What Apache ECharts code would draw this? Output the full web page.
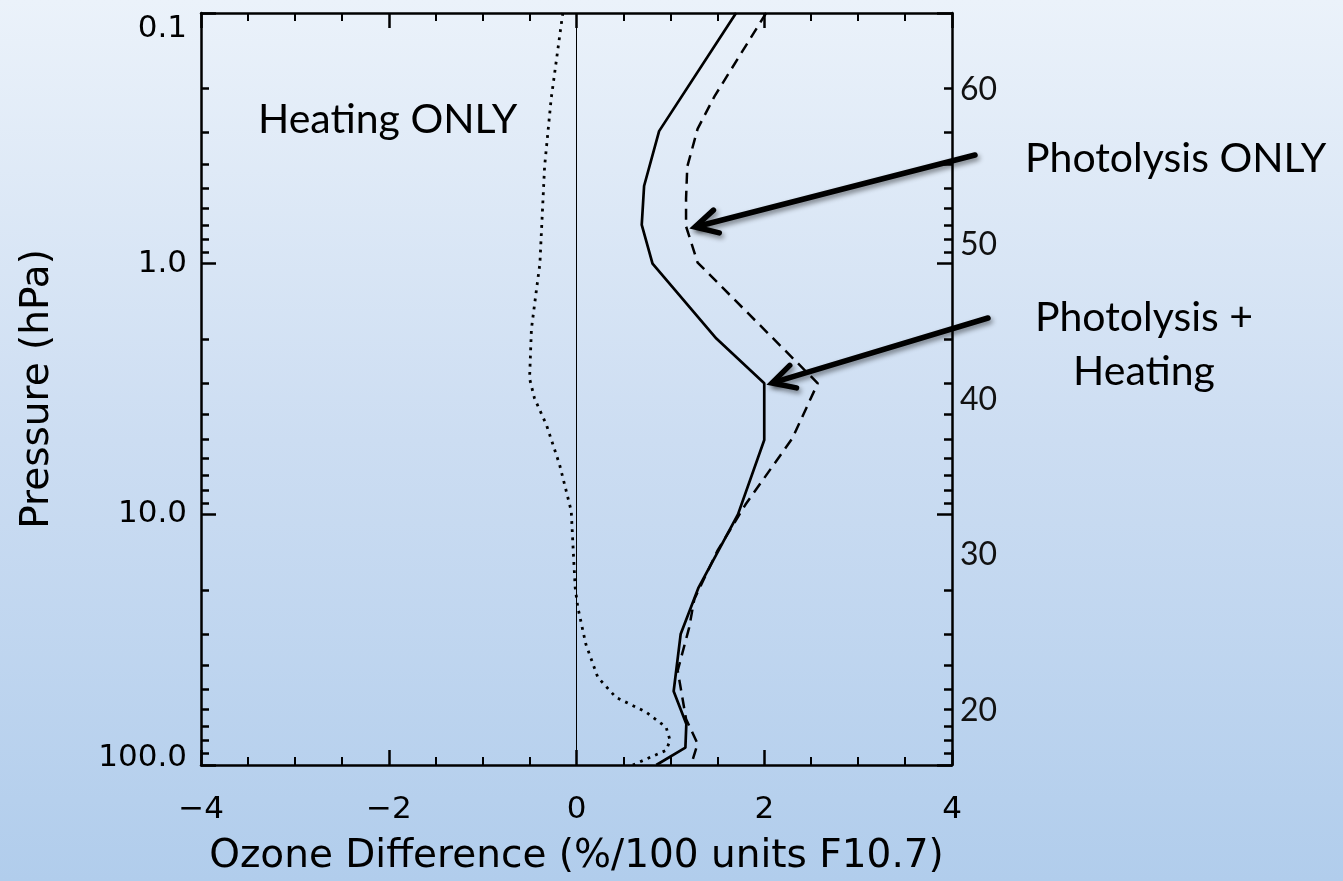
<!DOCTYPE html>
<html>
<head>
<meta charset="utf-8">
<script src="https://cdn.jsdelivr.net/npm/echarts@6/dist/echarts.min.js"></script>
<style>
  html, body { margin: 0; padding: 0; }
  #chart {
    width: 1343px; height: 881px;
    background: linear-gradient(to bottom, #EBF2FA 0%, #CCDDF2 50%, #B1CDEC 100%);
  }
</style>
</head>
<body>
<div id="chart"></div>
<script>
// Ozone response to the 11-year solar cycle, % per 100 units F10.7, versus pressure (hPa)

// Photolysis + Heating (solid)
const bothPressure = [0.1, 0.296, 0.49, 0.70, 1.0, 1.99, 3.0, 5.05, 10.0, 19.6, 30, 50.8, 68.6, 85.3, 100];
const bothOzone    = [1.70, 0.88, 0.72, 0.695, 0.81, 1.49, 2.0, 2.0, 1.72, 1.30, 1.11, 1.035, 1.17, 1.16, 0.85];

// Photolysis ONLY (dashed)
const photoPressure = [0.1, 0.215, 0.29, 0.41, 0.55, 0.71, 0.99, 3.0, 4.97, 9.14, 14, 21.8, 28.3, 42, 65.5, 82.3, 100];
const photoOzone    = [2.02, 1.47, 1.29, 1.18, 1.167, 1.167, 1.29, 2.57, 2.30, 1.80, 1.50, 1.255, 1.20, 1.078, 1.167, 1.29, 1.22];

// Heating ONLY (dotted)
const heatPressure = [0.1, 0.22, 0.41, 1.0, 1.3, 1.82, 2.87, 3.45, 4.4, 6.34, 9.7, 12.8, 19.6, 23.5, 33, 44.7, 53.7, 61.5, 70.6, 79.8, 87.4, 100];
const heatOzone    = [-0.146, -0.27, -0.34, -0.39, -0.43, -0.48, -0.50, -0.447, -0.32, -0.18, -0.056, -0.04, -0.014, 0.014, 0.10, 0.227, 0.42, 0.74, 0.954, 0.997, 0.954, 0.60];

// Axis ticks and labels
const xTicks = [-4, -2, 0, 2, 4];
const pressureTicks = [0.1, 1, 10, 100];
const pressureTickLabels = ['0.1', '1.0', '10.0', '100.0'];
const altitudeTicks = [20, 30, 40, 50, 60];
const altitudeRange = [16.47, 64.94];   // km spanned by the 100 .. 0.1 hPa column

const log10 = Math.log10;
const pMinorTicks = [];
[0.1, 1, 10].forEach(d => { for (let k = 2; k <= 9; k++) pMinorTicks.push(log10(k * d)); });
const pMajorTicks = pressureTicks.map(log10);
const pLabelOf = v => {
  const i = pMajorTicks.findIndex(t => Math.abs(t - v) < 1e-9);
  return i >= 0 ? pressureTickLabels[i] : '';
};

const toPoints = (ps, vs) => ps.map((p, i) => [vs[i], log10(p)]);

const AXIS_FONT = 'DejaVu Sans';
const NOTE_FONT = 'Lato';
const INK = '#000';

const yBase = {
  type: 'value', min: -1, max: 2, inverse: true,
  splitLine: { show: false }, axisLine: { show: false, onZero: false },
  axisTick: { show: false }, axisLabel: { show: false }
};

// pressure axis pieces: line, decade ticks, minor ticks, labels
const lineAxis = pos => Object.assign({}, yBase, {
  position: pos,
  axisLine: { show: true, onZero: false, lineStyle: { color: INK, width: 2.5 } },
  axisTick: { show: true, inside: true, length: 15, customValues: pMajorTicks, lineStyle: { color: INK, width: 2.5 } }
});
const minorAxis = pos => Object.assign({}, yBase, {
  position: pos,
  axisTick: { show: true, inside: true, length: 8, customValues: pMinorTicks, lineStyle: { color: INK, width: 2.5 } }
});
const labelAxis = (values, vAlign, lh) => Object.assign({}, yBase, {
  position: 'left',
  axisLabel: {
    show: true, customValues: values, margin: 14, fontFamily: AXIS_FONT, fontSize: 31, color: INK,
    verticalAlign: vAlign, lineHeight: lh, formatter: pLabelOf
  }
});

const chart = echarts.init(document.getElementById('chart'), null, { renderer: 'canvas' });

const pressureName = Object.assign(lineAxis('left'), {
  name: 'Pressure (hPa)', nameLocation: 'middle', nameRotate: 90, nameGap: 144,
  nameTextStyle: { fontFamily: AXIS_FONT, fontSize: 39, color: INK }
});

const option = {
  backgroundColor: 'transparent',
  animation: false,
  grid: { left: 201, top: 13, width: 751, height: 755, containLabel: false },
  xAxis: [
    {
      type: 'value', min: xTicks[0], max: xTicks[xTicks.length - 1], interval: 2, position: 'bottom',
      splitLine: { show: false },
      axisLine: { show: true, onZero: false, lineStyle: { color: INK, width: 2.5 } },
      axisTick: { show: true, inside: true, length: 15, lineStyle: { color: INK, width: 2.5 } },
      minorTick: { show: true, splitNumber: 4, length: 8, lineStyle: { color: INK, width: 2 } },
      axisLabel: {
        margin: 29, fontFamily: AXIS_FONT, fontSize: 31, color: INK,
        formatter: v => (v < 0 ? '\u2212' + Math.abs(v) : String(v))
      },
      name: 'Ozone Difference (%/100 units F10.7)', nameLocation: 'middle', nameGap: 72,
      nameTextStyle: { fontFamily: AXIS_FONT, fontSize: 39, color: INK }
    },
    {
      type: 'value', min: xTicks[0], max: xTicks[xTicks.length - 1], interval: 2, position: 'top',
      splitLine: { show: false },
      axisLine: { show: true, onZero: false, lineStyle: { color: INK, width: 2.5 } },
      axisTick: { show: true, inside: true, length: 15, lineStyle: { color: INK, width: 2.5 } },
      minorTick: { show: true, splitNumber: 4, length: 8, lineStyle: { color: INK, width: 2 } },
      axisLabel: { show: false }
    }
  ],
  yAxis: [
    pressureName,
    minorAxis('left'),
    labelAxis([0, 1], 'middle', 31),
    labelAxis([-1], 'top', 31),
    labelAxis([2], 'bottom', 14),
    lineAxis('right'),
    minorAxis('right'),
    // right: approximate altitude (km)
    {
      type: 'value', position: 'right', min: altitudeRange[0], max: altitudeRange[1],
      splitLine: { show: false }, axisLine: { show: false, onZero: false }, axisTick: { show: false },
      axisLabel: {
        show: true, customValues: altitudeTicks, margin: 8,
        fontFamily: NOTE_FONT, fontSize: 32, color: '#111'
      }
    }
  ],
  series: [
    {
      name: 'Photolysis + Heating', type: 'line', xAxisIndex: 0, yAxisIndex: 0,
      data: toPoints(bothPressure, bothOzone), showSymbol: false, silent: true,
      lineStyle: { color: INK, width: 2.7, type: 'solid' },
      markLine: {
        silent: true, symbol: 'none', label: { show: false },
        lineStyle: { color: INK, width: 1, type: 'solid' },
        data: [{ xAxis: 0 }]
      }
    },
    {
      name: 'Photolysis ONLY', type: 'line', xAxisIndex: 0, yAxisIndex: 0,
      data: toPoints(photoPressure, photoOzone), showSymbol: false, silent: true,
      lineStyle: { color: INK, width: 2.5, type: [11, 7] }
    },
    {
      name: 'Heating ONLY', type: 'line', xAxisIndex: 0, yAxisIndex: 0,
      data: toPoints(heatPressure, heatOzone), showSymbol: false, silent: true,
      lineStyle: { color: INK, width: 2.8, type: [2.8, 5.4] }
    }
  ]
};

chart.setOption(option);

// Annotation arrows pointing from the labels to the curves
function arrow(x1, y1, x2, y2) {
  const ang = Math.atan2(y1 - y2, x1 - x2);
  const head = 25, spread = 28 * Math.PI / 180;
  const a1 = [x2 + head * Math.cos(ang + spread), y2 + head * Math.sin(ang + spread)];
  const a2 = [x2 + head * Math.cos(ang - spread), y2 + head * Math.sin(ang - spread)];
  const style = {
    stroke: INK, lineWidth: 5.5, lineCap: 'round', lineJoin: 'miter', fill: null,
    shadowColor: 'rgba(0,0,0,0.45)', shadowBlur: 5, shadowOffsetX: 2, shadowOffsetY: 3
  };
  return [
    { type: 'line', shape: { x1: x1, y1: y1, x2: x2 + 2 * Math.cos(ang), y2: y2 + 2 * Math.sin(ang) }, style: style, silent: true },
    { type: 'polyline', shape: { points: [a1, [x2, y2], a2] }, style: style, silent: true }
  ];
}

const noteFont = '41px ' + NOTE_FONT;

chart.setOption({
  graphic: [
    { type: 'text', left: 258, top: 99, silent: true,
      style: { text: 'Heating ONLY', font: noteFont, fill: '#000' } },
    { type: 'text', left: 1025, top: 138, silent: true,
      style: { text: 'Photolysis ONLY', font: noteFont, fill: '#000' } },
    { type: 'text', x: 1144, y: 318, silent: true,
      style: { text: 'Photolysis +', font: noteFont, fill: '#000', align: 'center', verticalAlign: 'middle' } },
    { type: 'text', x: 1144, y: 372, silent: true,
      style: { text: 'Heating', font: noteFont, fill: '#000', align: 'center', verticalAlign: 'middle' } }
  ].concat(arrow(975, 155, 695, 227), arrow(988, 318, 772, 383))
});
</script>
</body>
</html>
